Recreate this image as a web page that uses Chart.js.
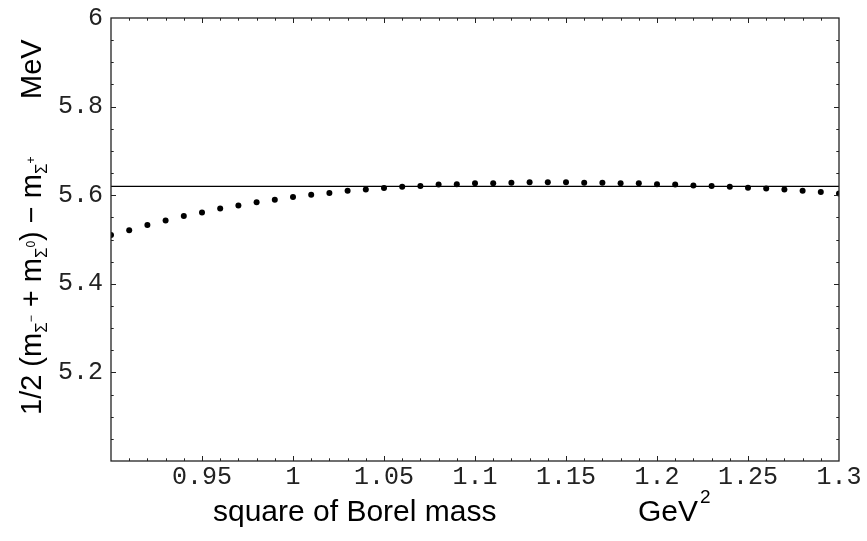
<!DOCTYPE html>
<html>
<head>
<meta charset="utf-8">
<script src="https://cdn.jsdelivr.net/npm/chart.js@4.4.1/dist/chart.umd.min.js"></script>
<style>
  html, body { margin: 0; padding: 0; background: #fff; }
  #wrap { width: 867px; height: 541px; }
</style>
</head>
<body>
<div id="wrap"><canvas id="chart" width="867" height="541"></canvas></div>
<script>
// ------------------------------------------------------------
// Data
// ------------------------------------------------------------
const borelMass = [
  0.90, 0.91, 0.92, 0.93, 0.94, 0.95, 0.96, 0.97, 0.98, 0.99,
  1.00, 1.01, 1.02, 1.03, 1.04, 1.05, 1.06, 1.07, 1.08, 1.09,
  1.10, 1.11, 1.12, 1.13, 1.14, 1.15, 1.16, 1.17, 1.18, 1.19,
  1.20, 1.21, 1.22, 1.23, 1.24, 1.25, 1.26, 1.27, 1.28, 1.29,
  1.30
];
const massDiff = [
  5.510, 5.521, 5.533, 5.543, 5.553, 5.561, 5.570, 5.577, 5.584, 5.590,
  5.596, 5.601, 5.605, 5.610, 5.613, 5.616, 5.619, 5.621, 5.624, 5.625,
  5.627, 5.627, 5.628, 5.629, 5.629, 5.629, 5.628, 5.628, 5.627, 5.627,
  5.625, 5.624, 5.622, 5.621, 5.619, 5.617, 5.615, 5.613, 5.610, 5.607,
  5.604
];
const refLineX = [0.9, 1.3];
const refLineY = [5.62, 5.62];

const xTickValues = [0.95, 1, 1.05, 1.1, 1.15, 1.2, 1.25, 1.3];
const yTickValues = [5.2, 5.4, 5.6, 5.8, 6];

const TICK_FONT = "'Liberation Mono', 'DejaVu Sans Mono', monospace";
const TITLE_FONT = "'Liberation Sans', Arial, sans-serif";

// ------------------------------------------------------------
// Frame + inward ticks on all four sides (Mathematica style)
// ------------------------------------------------------------
const framePlugin = {
  id: "frame",
  afterDraw(chart) {
    const { ctx, chartArea: a, scales } = chart;
    const xs = scales.x, ys = scales.y;
    ctx.save();
    ctx.strokeStyle = "#222";
    ctx.lineWidth = 1.3;
    ctx.strokeRect(a.left, a.top, a.right - a.left, a.bottom - a.top);

    ctx.lineWidth = 1;
    ctx.beginPath();
    // x ticks, step 0.01, major every 0.05
    for (let i = 1; i < 40; i++) {
      const v = 0.9 + i * 0.01;
      const px = Math.round(xs.getPixelForValue(v)) + 0.5;
      const len = i % 5 === 0 ? 5 : 2.7;
      ctx.moveTo(px, a.bottom); ctx.lineTo(px, a.bottom - len);
      ctx.moveTo(px, a.top); ctx.lineTo(px, a.top + len);
    }
    // y ticks, step 0.05, major every 0.2
    for (let i = 1; i < 20; i++) {
      const v = 5 + i * 0.05;
      const py = Math.round(ys.getPixelForValue(v)) + 0.5;
      const len = i % 4 === 0 ? 5 : 2.7;
      ctx.moveTo(a.left, py); ctx.lineTo(a.left + len, py);
      ctx.moveTo(a.right, py); ctx.lineTo(a.right - len, py);
    }
    ctx.stroke();
    ctx.restore();
  }
};

// ------------------------------------------------------------
// Axis titles with sub/superscripts
// ------------------------------------------------------------
function drawRuns(ctx, runs, x, y) {
  let cx = x;
  runs.forEach(([text, size, dy]) => {
    ctx.font = `${size}px ${TITLE_FONT}`;
    ctx.fillText(text, cx, y + dy);
    cx += ctx.measureText(text).width;
  });
  return cx;
}

const titlePlugin = {
  id: "titles",
  afterDraw(chart) {
    const ctx = chart.ctx;
    const S = 29, SUB = 17, SUP = 12;
    ctx.save();
    ctx.fillStyle = "#000";
    ctx.textBaseline = "alphabetic";
    ctx.textAlign = "left";

    // x axis title
    drawRuns(ctx, [["square of Borel mass", 30, 0]], 213, 521);
    const gx = drawRuns(ctx, [["GeV", 30, 0]], 638, 521);
    drawRuns(ctx, [["2", 19, -18]], gx + 2, 521);

    // y axis title (rotated)
    ctx.save();
    ctx.translate(41, 415);
    ctx.rotate(-Math.PI / 2);
    drawRuns(ctx, [
      ["1/2 (m", S, 0], ["\u03A3", SUB, 6], ["\u2212", SUP, -6],
      [" + m", S, 0], ["\u03A3", SUB, 6], ["0", SUP, -6],
      [") \u2212 m", S, 0], ["\u03A3", SUB, 6], ["+", SUP, -6]
    ], 0, 0);
    ctx.restore();

    ctx.save();
    ctx.translate(41, 99);
    ctx.rotate(-Math.PI / 2);
    drawRuns(ctx, [["MeV", S, 0]], 0, 0);
    ctx.restore();

    ctx.restore();
  }
};

// ------------------------------------------------------------
// Chart
// ------------------------------------------------------------
const points = borelMass.map((x, i) => ({ x, y: massDiff[i] }));
const refLine = refLineX.map((x, i) => ({ x, y: refLineY[i] }));

new Chart(document.getElementById("chart"), {
  type: "scatter",
  data: {
    datasets: [
      {
        data: points,
        pointRadius: 3,
        pointBackgroundColor: "#000",
        pointBorderWidth: 0,
        showLine: false,
        clip: 0
      },
      {
        type: "line",
        data: refLine,
        borderColor: "#000",
        borderWidth: 1.4,
        pointRadius: 0,
        fill: false,
        clip: 0
      }
    ]
  },
  options: {
    responsive: false,
    animation: false,
    layout: { padding: { left: 0, top: 11, right: 28, bottom: 0 } },
    plugins: {
      legend: { display: false },
      tooltip: { enabled: false }
    },
    scales: {
      x: {
        type: "linear",
        min: 0.9,
        max: 1.3,
        grid: { display: false, drawTicks: false },
        border: { display: false },
        afterBuildTicks: scale => {
          scale.ticks = xTickValues.map(value => ({ value }));
        },
        afterFit: scale => { scale.height = 80; },
        ticks: {
          font: { family: TICK_FONT, size: 25, lineHeight: 1 },
          color: "#222",
          padding: 4,
          maxRotation: 0,
          autoSkip: false,
          callback: value => String(+value.toFixed(2))
        }
      },
      y: {
        type: "linear",
        min: 5,
        max: 6,
        grid: { display: false, drawTicks: false },
        border: { display: false },
        afterBuildTicks: scale => {
          scale.ticks = yTickValues.map(value => ({ value }));
        },
        afterFit: scale => { scale.width = 111; },
        ticks: {
          font: { family: TICK_FONT, size: 25, lineHeight: 0.8 },
          color: "#222",
          padding: 8,
          autoSkip: false,
          callback: value => String(+value.toFixed(1))
        }
      }
    }
  },
  plugins: [framePlugin, titlePlugin]
});
</script>
</body>
</html>
